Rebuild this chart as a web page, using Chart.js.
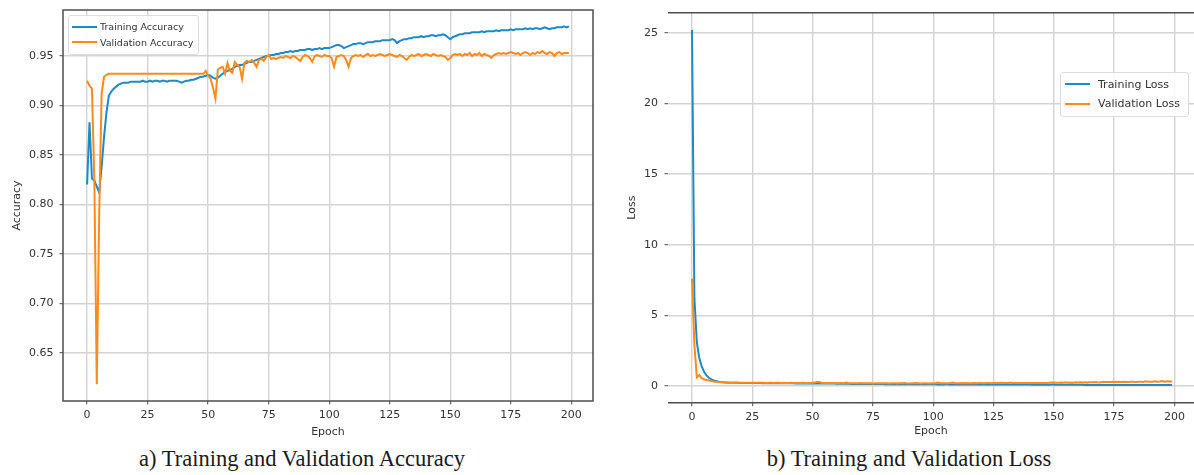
<!DOCTYPE html>
<html>
<head>
<meta charset="utf-8">
<script src="https://cdn.jsdelivr.net/npm/chart.js@4.4.0/dist/chart.umd.min.js"></script>
<style>
  html, body { margin: 0; padding: 0; background: #fff; overflow: hidden; }
  body { position: relative; width: 1194px; height: 475px; }
  canvas { position: absolute; }
  .legend { position: absolute; box-sizing: border-box; border: 1px solid #dcdcdc; border-radius: 3px;
            background: rgba(255,255,255,0.85); font-family: 'DejaVu Sans'; color: #333; }
  .legend .swatch { position: absolute; height: 2px; width: 25px; }
  .legend .label { position: absolute; white-space: nowrap; }
  .caption { position: absolute; width: 420px; text-align: center; white-space: nowrap;
             font-family: 'Liberation Serif', serif; font-size: 22.5px; line-height: 22.5px; color: #1a1a1a; }
</style>
</head>
<body>
<canvas id="accChart" width="600" height="460" style="left:0;top:-20px"></canvas>
<canvas id="lossChart" width="594" height="460" style="left:600px;top:-20px"></canvas>
<div id="accLegend" class="legend" style="left:68px;top:15px;width:131px;height:40px"></div>
<div id="lossLegend" class="legend" style="left:1060px;top:72px;width:129px;height:45px"></div>
<div class="caption" style="left:92px;top:448px">a) Training and Validation Accuracy</div>
<div class="caption" style="left:699px;top:448px">b) Training and Validation Loss</div>
<script>
// per-epoch history (epochs 0..199)
const trainAcc = [
  0.820, 0.883, 0.826, 0.824, 0.818, 0.812, 0.838, 0.868, 0.893, 0.910,
  0.914, 0.917, 0.919, 0.921, 0.922, 0.923, 0.923, 0.923, 0.924, 0.924,
  0.924, 0.924, 0.924, 0.925, 0.924, 0.924, 0.925, 0.924, 0.925, 0.925,
  0.924, 0.925, 0.925, 0.924, 0.925, 0.925, 0.925, 0.925, 0.924, 0.923,
  0.924, 0.925, 0.925, 0.926, 0.926, 0.927, 0.928, 0.929, 0.929, 0.930,
  0.931, 0.930, 0.928, 0.927, 0.928, 0.930, 0.932, 0.934, 0.935, 0.936,
  0.937, 0.939, 0.940, 0.941, 0.941, 0.942, 0.943, 0.944, 0.944, 0.945,
  0.946, 0.947, 0.948, 0.949, 0.950, 0.950, 0.951, 0.951, 0.952, 0.952,
  0.953, 0.953, 0.954, 0.954, 0.955, 0.954, 0.955, 0.955, 0.956, 0.956,
  0.956, 0.957, 0.957, 0.956, 0.957, 0.957, 0.958, 0.957, 0.958, 0.958,
  0.958, 0.959, 0.960, 0.961, 0.961, 0.960, 0.958, 0.959, 0.960, 0.961,
  0.962, 0.962, 0.963, 0.963, 0.962, 0.963, 0.964, 0.964, 0.964, 0.965,
  0.965, 0.965, 0.966, 0.966, 0.966, 0.966, 0.967, 0.966, 0.963, 0.965,
  0.966, 0.967, 0.967, 0.968, 0.968, 0.969, 0.969, 0.969, 0.970, 0.969,
  0.970, 0.970, 0.971, 0.971, 0.970, 0.971, 0.971, 0.972, 0.971, 0.969,
  0.967, 0.969, 0.970, 0.971, 0.972, 0.972, 0.973, 0.973, 0.973, 0.974,
  0.974, 0.974, 0.974, 0.975, 0.974, 0.975, 0.975, 0.975, 0.975, 0.976,
  0.975, 0.976, 0.976, 0.976, 0.976, 0.977, 0.976, 0.977, 0.977, 0.977,
  0.977, 0.978, 0.977, 0.978, 0.977, 0.978, 0.978, 0.977, 0.978, 0.979,
  0.978, 0.977, 0.978, 0.978, 0.979, 0.979, 0.979, 0.980, 0.979, 0.980
];
const valAcc = [
  0.925, 0.920, 0.917, 0.825, 0.618, 0.790, 0.912, 0.929, 0.931, 0.932,
  0.932, 0.932, 0.932, 0.932, 0.932, 0.932, 0.932, 0.932, 0.932, 0.932,
  0.932, 0.932, 0.932, 0.932, 0.932, 0.932, 0.932, 0.932, 0.932, 0.932,
  0.932, 0.932, 0.932, 0.932, 0.932, 0.932, 0.932, 0.932, 0.932, 0.932,
  0.932, 0.932, 0.932, 0.932, 0.932, 0.932, 0.932, 0.932, 0.932, 0.935,
  0.930, 0.927, 0.918, 0.907, 0.936, 0.938, 0.939, 0.932, 0.943, 0.935,
  0.933, 0.944, 0.941, 0.939, 0.927, 0.943, 0.945, 0.944, 0.946, 0.943,
  0.939, 0.946, 0.947, 0.945, 0.949, 0.951, 0.947, 0.948, 0.947, 0.948,
  0.949, 0.948, 0.950, 0.949, 0.948, 0.950, 0.949, 0.947, 0.945, 0.949,
  0.951, 0.950, 0.948, 0.944, 0.950, 0.951, 0.950, 0.949, 0.951, 0.950,
  0.950, 0.948, 0.939, 0.949, 0.950, 0.951, 0.950, 0.946, 0.939, 0.948,
  0.950, 0.951, 0.950, 0.951, 0.949, 0.951, 0.952, 0.950, 0.951, 0.950,
  0.951, 0.952, 0.951, 0.950, 0.951, 0.952, 0.951, 0.950, 0.949, 0.951,
  0.950, 0.948, 0.946, 0.949, 0.951, 0.950, 0.951, 0.952, 0.950, 0.951,
  0.952, 0.951, 0.950, 0.952, 0.951, 0.950, 0.951, 0.950, 0.949, 0.946,
  0.948, 0.951, 0.952, 0.951, 0.952, 0.950, 0.952, 0.951, 0.953, 0.950,
  0.952, 0.951, 0.953, 0.950, 0.952, 0.951, 0.950, 0.948, 0.951, 0.952,
  0.953, 0.952, 0.953, 0.952, 0.953, 0.954, 0.953, 0.952, 0.953, 0.951,
  0.953, 0.954, 0.953, 0.951, 0.953, 0.952, 0.954, 0.953, 0.955, 0.953,
  0.952, 0.954, 0.953, 0.950, 0.953, 0.954, 0.952, 0.953, 0.953, 0.953
];
const trainLoss = [
  25.2, 6.2, 3.1, 2.0, 1.4, 1.0, 0.75, 0.58, 0.47, 0.40,
  0.35, 0.31, 0.28, 0.26, 0.25, 0.24, 0.24, 0.23, 0.23, 0.23,
  0.22, 0.22, 0.22, 0.22, 0.21, 0.21, 0.21, 0.21, 0.21, 0.20,
  0.20, 0.20, 0.20, 0.20, 0.20, 0.19, 0.19, 0.20, 0.19, 0.19,
  0.19, 0.19, 0.19, 0.18, 0.19, 0.18, 0.18, 0.18, 0.18, 0.18,
  0.17, 0.18, 0.19, 0.18, 0.18, 0.17, 0.17, 0.17, 0.17, 0.17,
  0.16, 0.16, 0.16, 0.16, 0.16, 0.16, 0.15, 0.15, 0.15, 0.15,
  0.15, 0.15, 0.14, 0.14, 0.14, 0.14, 0.14, 0.14, 0.14, 0.14,
  0.13, 0.13, 0.13, 0.13, 0.13, 0.13, 0.13, 0.13, 0.13, 0.12,
  0.12, 0.12, 0.12, 0.12, 0.12, 0.12, 0.12, 0.12, 0.12, 0.12,
  0.12, 0.12, 0.11, 0.11, 0.11, 0.12, 0.12, 0.11, 0.11, 0.11,
  0.11, 0.11, 0.11, 0.11, 0.11, 0.11, 0.11, 0.11, 0.11, 0.11,
  0.11, 0.10, 0.10, 0.10, 0.10, 0.10, 0.10, 0.10, 0.11, 0.10,
  0.10, 0.10, 0.10, 0.10, 0.10, 0.10, 0.10, 0.10, 0.10, 0.10,
  0.10, 0.09, 0.09, 0.09, 0.09, 0.09, 0.09, 0.09, 0.09, 0.10,
  0.10, 0.09, 0.09, 0.09, 0.09, 0.09, 0.09, 0.09, 0.09, 0.09,
  0.09, 0.09, 0.09, 0.08, 0.09, 0.08, 0.08, 0.08, 0.08, 0.08,
  0.08, 0.08, 0.08, 0.08, 0.08, 0.08, 0.08, 0.08, 0.08, 0.08,
  0.08, 0.07, 0.08, 0.07, 0.08, 0.07, 0.07, 0.07, 0.07, 0.07,
  0.07, 0.07, 0.07, 0.07, 0.07, 0.07, 0.07, 0.07, 0.07, 0.07
];
const valLoss = [
  7.6, 2.9, 0.62, 0.78, 0.55, 0.48, 0.43, 0.39, 0.35, 0.32,
  0.30, 0.28, 0.27, 0.26, 0.25, 0.25, 0.24, 0.24, 0.25, 0.24,
  0.24, 0.23, 0.24, 0.24, 0.23, 0.24, 0.23, 0.23, 0.24, 0.23,
  0.23, 0.22, 0.23, 0.23, 0.22, 0.23, 0.23, 0.22, 0.23, 0.22,
  0.22, 0.23, 0.22, 0.22, 0.22, 0.22, 0.23, 0.22, 0.22, 0.21,
  0.23, 0.25, 0.30, 0.26, 0.22, 0.21, 0.22, 0.20, 0.21, 0.22,
  0.21, 0.20, 0.21, 0.20, 0.24, 0.20, 0.19, 0.20, 0.19, 0.20,
  0.21, 0.19, 0.19, 0.20, 0.19, 0.18, 0.19, 0.19, 0.19, 0.19,
  0.19, 0.19, 0.18, 0.19, 0.19, 0.18, 0.19, 0.20, 0.21, 0.19,
  0.18, 0.19, 0.19, 0.21, 0.19, 0.18, 0.19, 0.19, 0.18, 0.19,
  0.19, 0.20, 0.24, 0.20, 0.19, 0.19, 0.19, 0.21, 0.25, 0.20,
  0.20, 0.20, 0.21, 0.20, 0.21, 0.20, 0.20, 0.21, 0.20, 0.21,
  0.21, 0.20, 0.21, 0.21, 0.20, 0.22, 0.21, 0.22, 0.23, 0.21,
  0.21, 0.22, 0.24, 0.22, 0.21, 0.22, 0.21, 0.21, 0.22, 0.21,
  0.21, 0.22, 0.22, 0.21, 0.22, 0.22, 0.21, 0.22, 0.23, 0.25,
  0.25, 0.24, 0.24, 0.25, 0.24, 0.26, 0.24, 0.25, 0.24, 0.26,
  0.25, 0.26, 0.25, 0.27, 0.25, 0.26, 0.27, 0.28, 0.26, 0.25,
  0.28, 0.29, 0.28, 0.29, 0.28, 0.30, 0.28, 0.31, 0.29, 0.31,
  0.29, 0.28, 0.30, 0.31, 0.29, 0.30, 0.31, 0.29, 0.33, 0.30,
  0.31, 0.30, 0.33, 0.30, 0.32, 0.36, 0.31, 0.34, 0.32, 0.34
];
const epochTicks = [0, 25, 50, 75, 100, 125, 150, 175, 200];
const accTicks = [0.65, 0.70, 0.75, 0.80, 0.85, 0.90, 0.95];
const lossTicks = [0, 5, 10, 15, 20, 25];

const epochs = trainAcc.map((_, i) => i);
const BLUE = '#1c8ac7';
const ORANGE = '#ff8a1c';
const TICK_FONT = { family: 'DejaVu Sans', size: 11 };

// matplotlib-like box around the axes; a side can be switched off
// when it falls outside the canvas
const framePlugin = {
  id: 'frame',
  afterDatasetsDraw(chart, args, opts) {
    const { ctx, chartArea: a } = chart;
    ctx.save();
    ctx.strokeStyle = '#4d4d4d';
    ctx.lineWidth = 1.5;
    ctx.beginPath();
    ctx.moveTo(a.left, a.top);
    ctx.lineTo(a.right, a.top);
    if (opts.right !== false) ctx.lineTo(a.right, a.bottom); else ctx.moveTo(a.right, a.bottom);
    ctx.lineTo(a.left, a.bottom);
    ctx.closePath();
    ctx.stroke();
    ctx.restore();
  }
};

function series(label, values, color, order) {
  return {
    label,
    data: values.map((v, i) => ({ x: epochs[i], y: v })),
    borderColor: color,
    backgroundColor: color,
    borderWidth: 2,
    pointRadius: 0,
    tension: 0,
    order
  };
}

function makeChart(id, cfg) {
  return new Chart(document.getElementById(id), {
    type: 'line',
    data: { datasets: cfg.datasets },
    plugins: [framePlugin],
    options: {
      responsive: false,
      animation: false,
      layout: { padding: cfg.padding },
      plugins: {
        legend: { display: false },
        tooltip: { enabled: false },
        frame: { right: cfg.rightSpine }
      },
      scales: {
        x: {
          type: 'linear',
          min: -9.95, max: cfg.xMax,
          afterBuildTicks: s => { s.ticks = epochTicks.map(v => ({ value: v })); },
          afterFit: s => { s.height = cfg.xHeight; },
          border: { display: false },
          grid: { color: '#d4d4d4', lineWidth: 1.4, tickColor: '#4d4d4d', tickLength: 3.5, tickWidth: 1 },
          ticks: { font: TICK_FONT, color: '#333', padding: cfg.xPad, maxRotation: 0 },
          title: { display: true, text: 'Epoch', font: TICK_FONT, color: '#333',
                   padding: { top: 0, bottom: cfg.xTitlePad } }
        },
        y: {
          type: 'linear',
          min: cfg.yMin, max: cfg.yMax,
          afterBuildTicks: s => { s.ticks = cfg.yTicks.map(v => ({ value: v })); },
          afterFit: s => { s.width = cfg.yWidth; },
          border: { display: false },
          grid: { color: '#d4d4d4', lineWidth: 1.4, tickColor: '#4d4d4d', tickLength: 3.5, tickWidth: 1 },
          ticks: { font: TICK_FONT, color: '#333', padding: cfg.yPad, callback: cfg.yFormat },
          title: { display: true, text: cfg.yTitle, font: TICK_FONT, color: '#333',
                   padding: { top: cfg.yTitlePad, bottom: 0 } }
        }
      }
    }
  });
}

function buildLegend(elId, chart, o) {
  const box = document.getElementById(elId);
  const lh = o.fontSize * 1.2;
  chart.data.datasets.forEach((ds, i) => {
    const cy = o.firstRow + i * o.rowGap;
    const sw = document.createElement('div');
    sw.className = 'swatch';
    sw.style.cssText = `left:${o.swatchLeft}px;top:${cy - 1}px;background:${ds.borderColor}`;
    const tx = document.createElement('div');
    tx.className = 'label';
    tx.textContent = ds.label;
    tx.style.cssText = `left:${o.textLeft}px;top:${cy - lh / 2}px;font-size:${o.fontSize}px;line-height:${lh}px`;
    box.appendChild(sw);
    box.appendChild(tx);
  });
}

const accChart = makeChart('accChart', {
  datasets: [
    series('Training Accuracy', trainAcc, BLUE, 1),
    series('Validation Accuracy', valAcc, ORANGE, 0)
  ],
  padding: { top: 30, right: 7, bottom: 0, left: 0 },
  xMax: 208.95, xHeight: 39, xPad: 4.4, xTitlePad: 1.7,
  yMin: 0.6011, yMax: 0.9965, yTicks: accTicks, yWidth: 63, yPad: 6,
  yTitle: 'Accuracy', yTitlePad: 11,
  yFormat: v => v.toFixed(2),
  rightSpine: true
});

// the loss axes run a little past the page edge, so the visible
// x range stops short of the usual right margin
const lossChart = makeChart('lossChart', {
  datasets: [
    series('Training Loss', trainLoss, BLUE, 1),
    series('Validation Loss', valLoss, ORANGE, 0)
  ],
  padding: { top: 32.7, right: 0, bottom: 0, left: 0 },
  xMax: 208.12, xHeight: 37.3, xPad: 3.9, xTitlePad: 2.4,
  yMin: -1.18, yMax: 26.415, yTicks: lossTicks, yWidth: 68, yPad: 6.5,
  yTitle: 'Loss', yTitlePad: 25.4,
  yFormat: v => String(v),
  rightSpine: false
});

buildLegend('accLegend', accChart, { firstRow: 10.7, rowGap: 15.6, swatchLeft: 3, textLeft: 31, fontSize: 9.5 });
buildLegend('lossLegend', lossChart, { firstRow: 11.3, rowGap: 19.7, swatchLeft: 4, textLeft: 37, fontSize: 11 });
</script>
</body>
</html>
